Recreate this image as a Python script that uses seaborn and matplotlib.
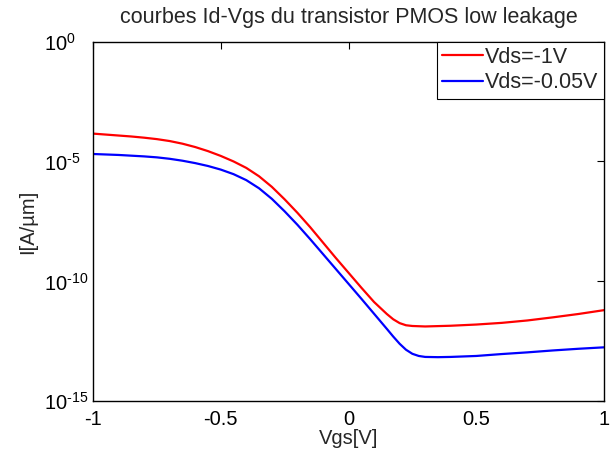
import numpy as np
import pandas as pd
import matplotlib
matplotlib.use("Agg")
import matplotlib.pyplot as plt
import seaborn as sns

# Id-Vgs characteristics of a low-leakage PMOS transistor (log10 of I in A/um)
vgs_vds1 = [-1.00, -0.95, -0.90, -0.85, -0.80, -0.75, -0.70, -0.65, -0.60, -0.55,
            -0.50, -0.45, -0.40, -0.35, -0.30, -0.25, -0.20, -0.15, -0.10, -0.05,
            0.00, 0.05, 0.10, 0.15, 0.175, 0.20, 0.225, 0.25, 0.30, 0.40,
            0.50, 0.60, 0.70, 0.80, 0.90, 1.00]
log_id_vds1 = [-3.84, -3.88, -3.92, -3.96, -4.01, -4.07, -4.15, -4.26, -4.40, -4.57,
               -4.77, -5.00, -5.27, -5.62, -6.06, -6.58, -7.14, -7.74, -8.38, -9.02,
               -9.64, -10.26, -10.86, -11.36, -11.58, -11.74, -11.83, -11.86, -11.88, -11.85,
               -11.80, -11.73, -11.63, -11.50, -11.36, -11.20]

vgs_vds005 = [-1.00, -0.95, -0.90, -0.85, -0.80, -0.75, -0.70, -0.65, -0.60, -0.55,
              -0.50, -0.45, -0.40, -0.35, -0.30, -0.25, -0.20, -0.15, -0.10, -0.05,
              0.00, 0.05, 0.10, 0.15, 0.175, 0.20, 0.225, 0.25, 0.275, 0.30,
              0.35, 0.40, 0.50, 0.60, 0.70, 0.80, 0.90, 1.00]
log_id_vds005 = [-4.69, -4.71, -4.73, -4.76, -4.79, -4.83, -4.89, -4.97, -5.07, -5.19,
                 -5.34, -5.53, -5.78, -6.12, -6.56, -7.08, -7.64, -8.24, -8.86, -9.48,
                 -10.10, -10.72, -11.35, -11.98, -12.30, -12.60, -12.85, -13.02, -13.11, -13.15,
                 -13.16, -13.15, -13.11, -13.03, -12.96, -12.88, -12.81, -12.75]

series_labels = ["Vds=-1V", "Vds=-0.05V"]
series_colors = ["#ff0000", "#0000ff"]

x_ticks = [-1, -0.5, 0, 0.5, 1]
x_tick_labels = ["-1", "-0.5", "0", "0.5", "1"]
y_ticks = [1e-15, 1e-10, 1e-5, 1e0]
y_tick_labels = [r"$10^{\text{-}15}$", r"$10^{\text{-}10}$", r"$10^{\text{-}5}$", r"$10^{0}$"]

df = pd.concat([
    pd.DataFrame({"Vgs": vgs_vds1, "I": np.power(10.0, log_id_vds1), "Vds": series_labels[0]}),
    pd.DataFrame({"Vgs": vgs_vds005, "I": np.power(10.0, log_id_vds005), "Vds": series_labels[1]}),
], ignore_index=True)

sns.set_style("white")
plt.rcParams["font.family"] = ["Liberation Sans", "DejaVu Sans"]
plt.rcParams["mathtext.fontset"] = "custom"
plt.rcParams["mathtext.rm"] = "Liberation Sans"
plt.rcParams["mathtext.it"] = "Liberation Sans:italic"
plt.rcParams["mathtext.default"] = "regular"

fig = plt.figure(figsize=(6.11, 4.55), dpi=100)
ax = fig.add_axes([93 / 611, 1 - 401.3 / 455, (604 - 93) / 611, (401.3 - 41.5) / 455])

sns.lineplot(data=df, x="Vgs", y="I", hue="Vds", hue_order=series_labels,
             palette=series_colors, linewidth=1.6, ax=ax, legend=True)

ax.set_yscale("log")
ax.set_xlim(-1, 1)
ax.set_ylim(1e-15, 1e0)
ax.set_xticks(x_ticks)
ax.set_xticklabels(x_tick_labels)
ax.set_yticks(y_ticks)
ax.set_yticklabels(y_tick_labels)
ax.yaxis.set_minor_locator(matplotlib.ticker.NullLocator())

for side in ax.spines.values():
    side.set_color("black")
    side.set_linewidth(1.0)

ax.tick_params(axis="both", which="major", direction="in", length=5, width=0.8,
               top=True, right=True, labelsize=14.5, colors="black")
ax.tick_params(axis="x", pad=6)
# the "10" bases of the decade labels share one left edge
ax.tick_params(axis="y", pad=35)
for lbl in ax.get_yticklabels():
    lbl.set_horizontalalignment("left")

ax.set_xlabel("Vgs[V]", fontsize=14.5, labelpad=0)
ax.set_ylabel("I[A/µm]", fontsize=14.5, labelpad=5)
ax.set_title("courbes Id-Vgs du transistor PMOS low leakage", fontsize=15.5, pad=13)

handles, labels = ax.get_legend_handles_labels()
leg = ax.legend(handles, labels, loc="upper right", fontsize=15.5, frameon=True,
                fancybox=False, framealpha=1, edgecolor="black", borderaxespad=0,
                borderpad=0.25, labelspacing=0.2, handlelength=1.9, handletextpad=0.1)
leg.get_frame().set_linewidth(0.8)

fig.savefig("out.png", dpi=100, facecolor="white")
